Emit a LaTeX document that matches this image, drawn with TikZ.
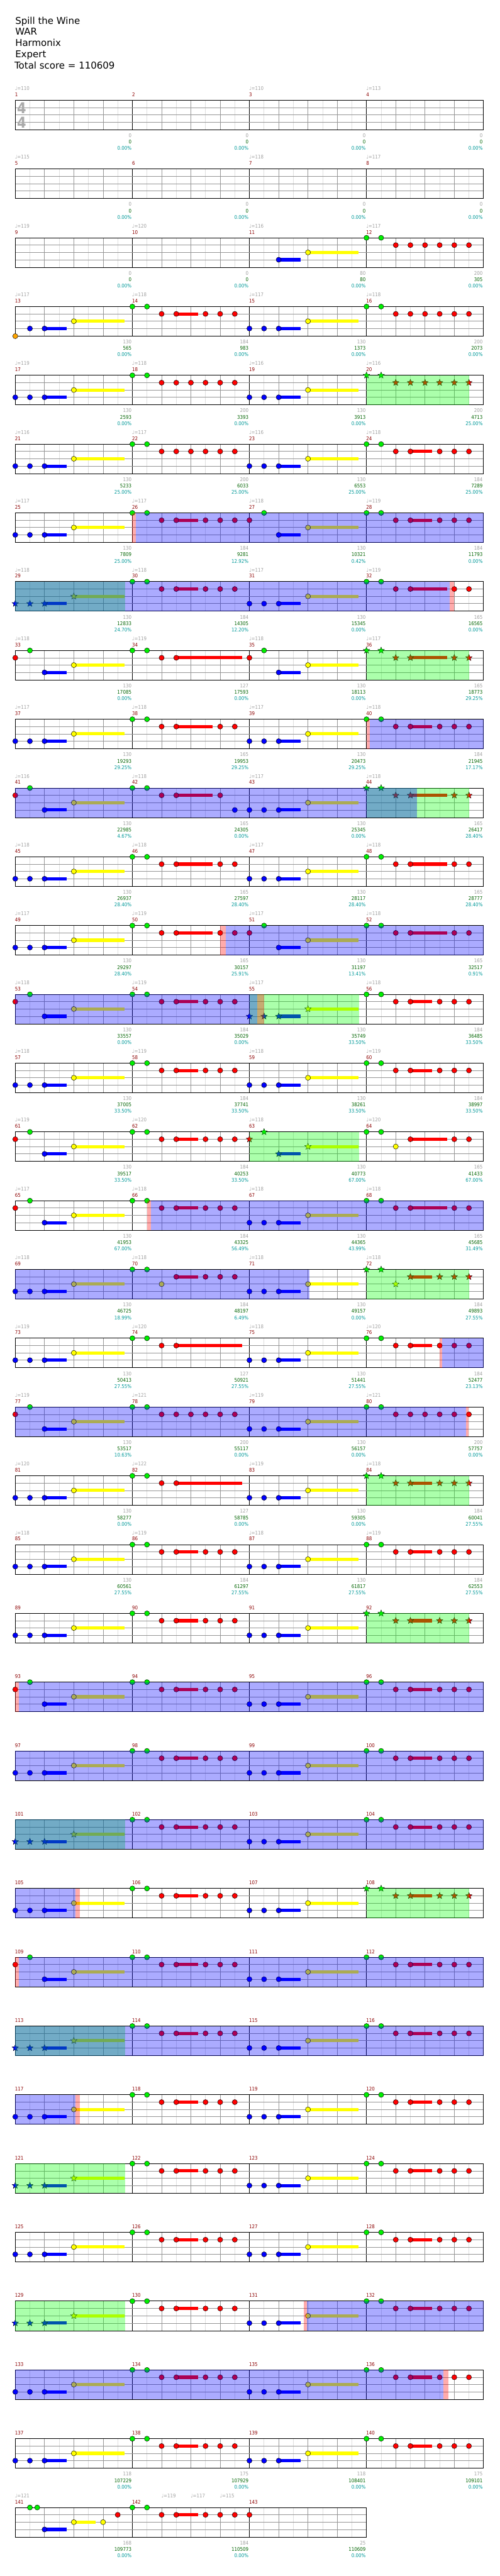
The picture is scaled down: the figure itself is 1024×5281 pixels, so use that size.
\documentclass[tikz,border=0pt]{standalone}
\usepackage{fontspec}
\setmainfont{DejaVu Sans}
\newfontfamily\lblf[FakeStretch=0.88]{DejaVu Sans}
\usetikzlibrary{shapes.geometric}
\pgfdeclarelayer{bg}\pgfdeclarelayer{fgA}\pgfdeclarelayer{fgB}
\pgfsetlayers{bg,main,fgA,fgB}
\definecolor{cLight}{RGB}{222,222,222}
\definecolor{cGrid}{RGB}{150,150,150}
\definecolor{cTempo}{RGB}{160,160,160}
\definecolor{cMnum}{RGB}{140,0,0}
\definecolor{cScore}{RGB}{0,100,0}
\definecolor{cPct}{RGB}{0,153,153}
\definecolor{cTS}{RGB}{170,170,170}
\definecolor{cG}{RGB}{0,240,0}
\definecolor{cR}{RGB}{255,0,0}
\definecolor{cY}{RGB}{255,255,0}
\definecolor{cB}{RGB}{0,0,255}
\definecolor{cO}{RGB}{255,165,0}
\definecolor{cYB}{RGB}{255,255,208}
\tikzset{
 lline/.style={draw=cLight,line width=0.75pt},
 bline/.style={draw=cGrid,line width=0.75pt},
 mline/.style={draw=black,line width=0.75pt},
 hline/.style={draw=cGrid,line width=0.75pt},
 border/.style={draw=black,line width=0.95pt},
 nt/.style={circle,draw=black,line width=0.45pt,minimum size=7.9pt,inner sep=0pt},
 stn/.style={star,star points=5,star point ratio=2.3,minimum size=10.5pt,inner sep=0pt,draw=black,line width=0.35pt},
 lblfont/.style={font=\lblf\fontsize{7.8}{9}\selectfont,inner sep=0pt},
 tempo/.style={lblfont,text=cTempo,anchor=base west},
 mnum/.style={lblfont,text=cMnum,anchor=base west},
 lcnt/.style={lblfont,text=cTempo,anchor=base east},
 lsc/.style={lblfont,text=cScore,anchor=base east},
 lpc/.style={lblfont,text=cPct,anchor=base east},
 title/.style={anchor=base west,inner sep=0pt,font=\fontsize{14.5}{17}\selectfont}
}
% staff grid
\newcommand\staffrow[2]{%
 \pgfmathsetmacro\zY{205.5+141*#1}%
 \pgfmathtruncatemacro\zN{8*#2-1}%
 \pgfmathsetmacro\zW{240*#2}%
 \begin{scope}[shift={(31.3,\zY)}]
 \foreach \i in {1,...,\zN}{%
  \pgfmathtruncatemacro\zK{mod(\i,8)}%
  \pgfmathtruncatemacro\zJ{mod(\i,2)}%
  \ifnum\zK=0 \draw[mline] (30*\i,0) -- (30*\i,60.6);
  \else\ifnum\zJ=1 \draw[lline] (30*\i,0) -- (30*\i,60.6);
  \else \draw[bline] (30*\i,0) -- (30*\i,60.6);\fi\fi}
 \foreach \h in {15,30,45} \draw[hline] (0,\h) -- (\zW,\h);
 \draw[border] (0,0) rectangle (\zW,60.6);
 \end{scope}}
% measure scope
\newcommand\meas[2]{%
 \pgfmathsetmacro\zX{31.3+240*mod(#1-1,4)}%
 \pgfmathsetmacro\zY{205.5+141*floor((#1-1)/4)}%
 \begin{scope}[shift={(\zX,\zY)}]#2\end{scope}}
% notes
\newcommand\nnG[1]{\node[nt,fill=cG] at (#1,0) {};}
\newcommand\nnR[1]{\node[nt,fill=cR] at (#1,15) {};}
\newcommand\nnY[1]{\node[nt,fill=cY] at (#1,30) {};}
\newcommand\nnB[1]{\node[nt,fill=cB] at (#1,45) {};}
\newcommand\nnO[1]{\node[nt,fill=cO] at (#1,60.6) {};}
\newcommand\susbar[4]{\fill[#1] (#2,#4-3.3) rectangle (#3,#4+3.3);}
\newcommand\llR[2]{\susbar{cR}{#1}{#2}{15}\nnR{#1}}
\newcommand\llY[2]{\susbar{cY}{#1}{#2}{30}\nnY{#1}}
\newcommand\llB[2]{\susbar{cB}{#1}{#2}{45}\nnB{#1}}
\newcommand\ttG[1]{\node[stn,fill=cG] at (#1,0) {};}
\newcommand\ttR[1]{\node[stn,fill=cR] at (#1,15) {};}
\newcommand\ttY[1]{\node[stn,fill=cY] at (#1,30) {};}
\newcommand\ttB[1]{\node[stn,fill=cB] at (#1,45) {};}
\newcommand\uuR[2]{\susbar{cR}{#1}{#2}{15}\ttR{#1}}
\newcommand\uuY[2]{\susbar{cY}{#1}{#2}{30}\ttY{#1}}
\newcommand\uuB[2]{\susbar{cB}{#1}{#2}{45}\ttB{#1}}
% overlays
\newcommand\ovOD[2]{\begin{pgfonlayer}{fgB}\fill[blue,opacity=0.33] (#1,0) rectangle (#2,60.6);\end{pgfonlayer}}
\newcommand\ovPK[2]{\begin{pgfonlayer}{fgB}\fill[red,opacity=0.33] (#1,0) rectangle (#2,60.6);\end{pgfonlayer}}
\newcommand\ovSP[2]{\begin{pgfonlayer}{fgA}\fill[green,opacity=0.33] (#1,0) rectangle (#2,60.6);\end{pgfonlayer}}
\newcommand\ovYB[2]{\begin{pgfonlayer}{bg}\fill[cYB] (#1,-10.5) rectangle (#2,71);\end{pgfonlayer}}
% patterns
\newcommand\patA{\nnB{0}\nnB{30}\llB{60}{105}\llY{120}{224}}
\newcommand\patAr{\nnR{0}\nnG{30}\llB{60}{105}\llY{120}{224}}
\newcommand\patB{\nnG{0}\nnG{30}\nnR{60}\llR{90}{135}\nnR{150}\nnR{180}\nnR{210}}
\newcommand\patC{\nnG{0}\nnG{30}\nnR{60}\nnR{90}\nnR{120}\nnR{150}\nnR{180}\nnR{210}}
\newcommand\patD{\nnG{0}\nnG{30}\nnR{60}\llR{90}{165}\nnR{180}\nnR{210}}
\newcommand\patE{\nnG{0}\nnG{30}\nnR{60}\llR{90}{224.5}}
\newcommand\patSA{\ttB{0}\ttB{30}\uuB{60}{105}\uuY{120}{224}\ovSP{0}{224.8}}
\newcommand\patSB{\ovYB{0}{210}\ttG{0}\ttG{30}\ttR{60}\uuR{90}{135}\ttR{150}\ttR{180}\ttR{210}\ovSP{0}{210}}
\newcommand\patSD{\ovYB{0}{210}\ttG{0}\ttG{30}\ttR{60}\uuR{90}{165}\ttR{180}\ttR{210}\ovSP{0}{210}}
% labels
\newcommand\mlab[4]{%
 \pgfmathsetmacro\zX{31.3+240*mod(#1-1,4)+238.5}%
 \pgfmathsetmacro\zY{205.5+141*floor((#1-1)/4)}%
 \node[lcnt] at (\zX,\zY+76.2) {#2};
 \node[lsc] at (\zX,\zY+89.5) {#3};
 \node[lpc] at (\zX,\zY+102.5) {#4\%};}
\newcommand\tmpo[3]{%
 \pgfmathsetmacro\zX{31.3+240*mod(#1-1,4)+#2-0.5}%
 \pgfmathsetmacro\zY{205.5+141*floor((#1-1)/4)}%
 \node[tempo] at (\zX,\zY-20.5) {♩=#3};}
\begin{document}
\begin{tikzpicture}[x=0.75pt,y=-0.75pt]
\useasboundingbox (0,0) rectangle (1024,5281);
\fill[white] (0,0) rectangle (1024,5281);
% title
\node[title] (t1) at (31,50) {Spill the Wine};
\node[title] (t2) at (31,71.7) {WAR};
\node[title] (t3) at (31,95) {Harmonix};
\node[title] (t4) at (31,118) {Expert};
\node[title] (t5) at (29.5,141.7) {Total score = 110609};
% staves
\foreach \r in {0,...,34} {\staffrow{\r}{4}}
\staffrow{35}{3}
% time signature
\node[font=\lblf\bfseries\fontsize{23}{24}\selectfont,text=cTS,inner sep=0pt] (ts1) at (44.3,221) {4};
\node[font=\lblf\bfseries\fontsize{23}{24}\selectfont,text=cTS,inner sep=0pt] (ts2) at (44.3,251) {4};
% measure numbers
\foreach \m in {1,...,143}{%
 \pgfmathsetmacro\zX{31.3+240*mod(\m-1,4)-0.8}%
 \pgfmathsetmacro\zY{205.5+141*floor((\m-1)/4)}%
 \node[mnum] at (\zX,\zY-7.8) {\m};}
% tempos
\foreach \m/\t in {1/110,3/110,4/113,5/115,7/118,8/117,9/119,10/120,11/116,12/117,
 13/117,14/118,15/117,16/118,17/119,18/118,19/116,20/116,21/116,22/117,23/116,24/118,
 25/117,26/117,27/118,28/119,29/118,30/118,31/117,32/119,33/118,34/119,35/118,36/117,
 37/117,38/118,39/117,40/118,41/116,42/118,43/117,44/118,45/118,46/118,47/117,48/118,
 49/117,50/119,51/117,52/118,53/118,54/119,55/117,56/118,57/118,58/119,59/118,60/119,
 61/119,62/120,63/118,64/120,65/117,66/118,67/118,68/118,69/118,70/118,71/118,72/118,
 73/119,74/120,75/118,76/120,77/119,78/121,79/119,80/121,81/120,82/122,83/119,84/118,
 85/118,86/119,87/118,88/119,141/121}{\tmpo{\m}{0}{\t}}
\tmpo{142}{60}{119}\tmpo{142}{120}{117}\tmpo{142}{180}{115}
% labels
\foreach \m/\c/\s/\p in {1/0/0/0.00,2/0/0/0.00,3/0/0/0.00,4/0/0/0.00,5/0/0/0.00,6/0/0/0.00,
 7/0/0/0.00,8/0/0/0.00,9/0/0/0.00,10/0/0/0.00,11/80/80/0.00,12/200/305/0.00,
 13/130/565/0.00,14/184/983/0.00,15/130/1373/0.00,16/200/2073/0.00,
 17/130/2593/0.00,18/200/3393/0.00,19/130/3913/0.00,20/200/4713/25.00,
 21/130/5233/25.00,22/200/6033/25.00,23/130/6553/25.00,24/184/7289/25.00,
 25/130/7809/25.00,26/184/9281/12.92,27/130/10321/0.42,28/184/11793/0.00,
 29/130/12833/24.70,30/184/14305/12.20,31/130/15345/0.00,32/165/16565/0.00,
 33/130/17085/0.00,34/127/17593/0.00,35/130/18113/0.00,36/165/18773/29.25,
 37/130/19293/29.25,38/165/19953/29.25,39/130/20473/29.25,40/184/21945/17.17,
 41/130/22985/4.67,42/165/24305/0.00,43/130/25345/0.00,44/165/26417/28.40,
 45/130/26937/28.40,46/165/27597/28.40,47/130/28117/28.40,48/165/28777/28.40,
 49/130/29297/28.40,50/165/30157/25.91,51/130/31197/13.41,52/165/32517/0.91,
 53/130/33557/0.00,54/184/35029/0.00,55/130/35749/33.50,56/184/36485/33.50,
 57/130/37005/33.50,58/184/37741/33.50,59/130/38261/33.50,60/184/38997/33.50,
 61/130/39517/33.50,62/184/40253/33.50,63/130/40773/67.00,64/165/41433/67.00,
 65/130/41953/67.00,66/184/43325/56.49,67/130/44365/43.99,68/165/45685/31.49,
 69/130/46725/18.99,70/184/48197/6.49,71/130/49157/0.00,72/184/49893/27.55,
 73/130/50413/27.55,74/127/50921/27.55,75/130/51441/27.55,76/184/52477/23.13,
 77/130/53517/10.63,78/200/55117/0.00,79/130/56157/0.00,80/200/57757/0.00,
 81/130/58277/0.00,82/127/58785/0.00,83/130/59305/0.00,84/184/60041/27.55,
 85/130/60561/27.55,86/184/61297/27.55,87/130/61817/27.55,88/184/62553/27.55,
 137/118/107229/0.00,138/175/107929/0.00,139/118/108401/0.00,140/175/109101/0.00,
 141/168/109773/0.00,142/184/110509/0.00,143/25/110609/0.00}{\mlab{\m}{\c}{\s}{\p}}
% notes
\meas{11}{\llB{60}{105}\llY{120}{224}}
\meas{12}{\patC}
\meas{13}{\nnO{0}\nnB{30}\llB{60}{105}\llY{120}{224}}
\meas{14}{\patB}\meas{15}{\patA}\meas{16}{\patC}
\meas{17}{\patA}\meas{18}{\patC}\meas{19}{\patA}
\meas{20}{\ovYB{0}{210}\ttG{0}\ttG{30}\ttR{60}\ttR{90}\ttR{120}\ttR{150}\ttR{180}\ttR{210}\ovSP{0}{210}}
\meas{21}{\patA}\meas{22}{\patC}\meas{23}{\patA}\meas{24}{\patB}
\meas{25}{\patA}\meas{26}{\patB\ovPK{0}{7}\ovOD{7}{720}}\meas{27}{\patAr}\meas{28}{\patB}
\meas{29}{\patSA\ovOD{0}{890.7}}
\meas{30}{\patB}\meas{31}{\patA}
\meas{32}{\patD\ovPK{170.7}{180}}
\meas{33}{\patAr}\meas{34}{\patE}\meas{35}{\patAr}
\meas{36}{\patSD}
\meas{37}{\patA}\meas{38}{\patD}\meas{39}{\patA}\meas{40}{\patB\ovPK{0}{7}\ovOD{7}{240}}
\meas{41}{\patAr\ovOD{0}{824}}
\meas{42}{\nnG{0}\nnG{30}\nnR{60}\llR{90}{165}\nnR{180}\nnB{210}}
\meas{43}{\patA}
\meas{44}{\patSD}
\meas{45}{\patA}\meas{46}{\patD}\meas{47}{\patA}\meas{48}{\patD}
\meas{49}{\patA}\meas{50}{\patD\ovPK{180}{192}\ovOD{192}{720}}\meas{51}{\patAr}\meas{52}{\patD}
\meas{53}{\patAr\ovOD{0}{496}}\meas{54}{\patB}
\meas{55}{\patSA\ovPK{16}{30}}
\meas{56}{\patB}
\meas{57}{\patA}\meas{58}{\patB}\meas{59}{\patA}\meas{60}{\patB}
\meas{61}{\patAr}\meas{62}{\patB}
\meas{63}{\ttR{0}\ttG{30}\uuB{60}{105}\uuY{120}{224}\ovSP{0}{224.8}}
\meas{64}{\nnG{0}\nnG{30}\nnY{60}\llR{90}{165}\nnR{180}\nnR{210}}
\meas{65}{\patAr}\meas{66}{\patB\ovPK{30}{38}\ovOD{38}{720}}\meas{67}{\patA}\meas{68}{\patD}
\meas{69}{\patA\ovOD{0}{603}}
\meas{70}{\nnG{0}\nnG{30}\nnY{60}\llR{90}{135}\nnR{150}\nnR{180}\nnR{210}}
\meas{71}{\patA}
\meas{72}{\ovYB{0}{210}\ttG{0}\ttG{30}\ttY{60}\uuR{90}{135}\ttR{150}\ttR{180}\ttR{210}\ovSP{0}{210}}
\meas{73}{\patA}\meas{74}{\patE}\meas{75}{\patA}\meas{76}{\patB\ovPK{150}{155}\ovOD{155}{240}}
\meas{77}{\patAr\ovOD{0}{923.6}}\meas{78}{\patC}\meas{79}{\patA}\meas{80}{\patC\ovPK{203.6}{209.5}}
\meas{81}{\patA}\meas{82}{\patE}\meas{83}{\patA}\meas{84}{\patSB}
\meas{85}{\patA}\meas{86}{\patB}\meas{87}{\patA}\meas{88}{\patB}
% rows 23-35
\meas{89}{\patA}\meas{90}{\patB}\meas{91}{\patA}\meas{92}{\patSB}
\meas{93}{\patAr\ovPK{0}{7}\ovOD{7}{960}}\meas{94}{\patB}\meas{95}{\patA}\meas{96}{\patB}
\meas{97}{\patA\ovOD{0}{960}}\meas{98}{\patB}\meas{99}{\patA}\meas{100}{\patB}
\meas{101}{\patSA\ovOD{0}{960}}\meas{102}{\patB}\meas{103}{\patA}\meas{104}{\patB}
\meas{105}{\patA\ovOD{0}{124}\ovPK{124}{132}}\meas{106}{\patB}\meas{107}{\patA}\meas{108}{\patSB}
\meas{109}{\patAr\ovPK{0}{7}\ovOD{7}{960}}\meas{110}{\patB}\meas{111}{\patA}\meas{112}{\patB}
\meas{113}{\patSA\ovOD{0}{960}}\meas{114}{\patB}\meas{115}{\patA}\meas{116}{\patB}
\meas{117}{\patA\ovOD{0}{124}\ovPK{124}{132}}\meas{118}{\patB}\meas{119}{\patA}\meas{120}{\patB}
\meas{121}{\patSA}\meas{122}{\patB}\meas{123}{\patA}\meas{124}{\patB}
\meas{125}{\patA}\meas{126}{\patB}\meas{127}{\patA}\meas{128}{\patB}
\meas{129}{\patSA}\meas{130}{\patB}\meas{131}{\patA\ovPK{111}{118}\ovOD{118}{480}}\meas{132}{\patB}
\meas{133}{\patA\ovOD{0}{878}\ovPK{878}{888}}\meas{134}{\patB}\meas{135}{\patA}\meas{136}{\patB}
\meas{137}{\patA}\meas{138}{\patB}\meas{139}{\patA}\meas{140}{\patB}
\meas{141}{\nnG{30}\nnG{45}\llB{60}{105}\llY{120}{165}\nnY{180}\nnR{210}}
\meas{142}{\patB}
\meas{143}{\nnR{0}}
\end{tikzpicture}
\end{document}
